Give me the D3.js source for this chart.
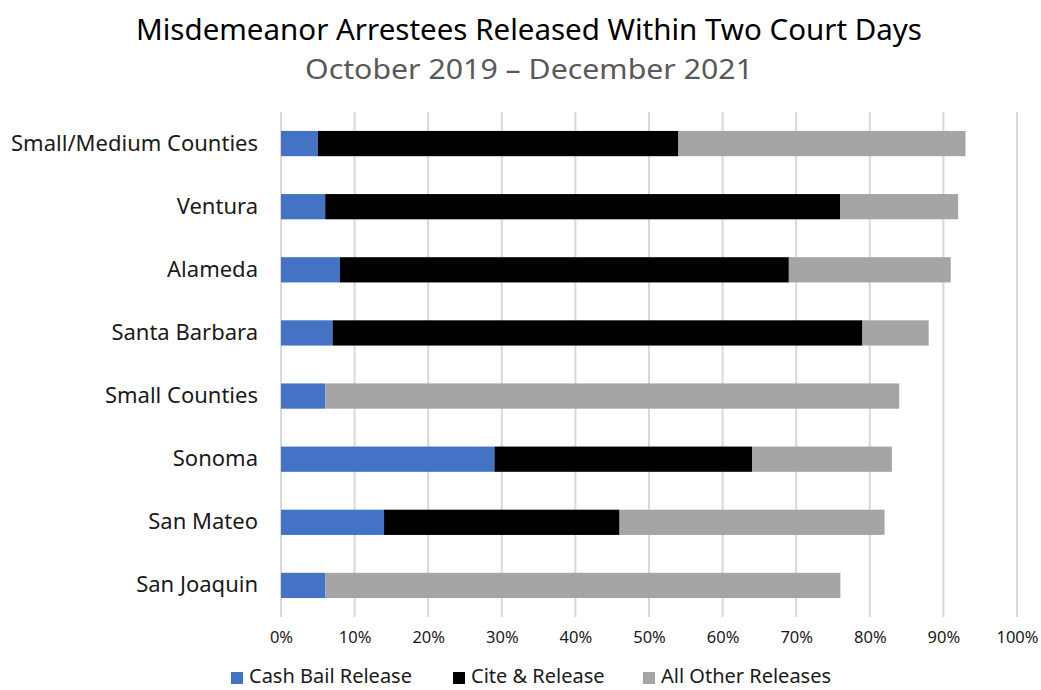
<!DOCTYPE html>
<html>
<head>
<meta charset="utf-8">
<script src="https://cdn.jsdelivr.net/npm/d3@7"></script>
<style>
body{margin:0;background:#fff;}
svg{font-family:'Noto Sans','Open Sans',sans-serif;}
</style>
</head>
<body>
<script>
// data (percent of arrestees)
var counties=['Small/Medium Counties','Ventura','Alameda','Santa Barbara','Small Counties','Sonoma','San Mateo','San Joaquin'];
var cashBail=[5,6,8,7,6,29,14,6];
var citeRelease=[49,70,61,72,0,35,32,0];
var otherRelease=[39,16,22,9,78,19,36,70];
var seriesNames=['Cash Bail Release','Cite & Release','All Other Releases'];
var seriesColors=['#4472C4','#000000','#A5A5A5'];
var tickValues=[0,10,20,30,40,50,60,70,80,90,100];

var width=1041,height=690;
var svg=d3.select('body').append('svg')
    .attr('width',width)
    .attr('height',height);

var rows=counties.map(function(c,i){
    return {county:c,cash:cashBail[i],cite:citeRelease[i],other:otherRelease[i]};
});
var keys=['cash','cite','other'];
var stacked=d3.stack().keys(keys)(rows);

var xScale=d3.scaleLinear().domain([0,100]).range([281,1017]);
var yScale=d3.scaleBand().domain(counties).range([112,617]).paddingInner(0.6).paddingOuter(0.3);

// title
svg.append('text')
    .attr('x',529).attr('y',40)
    .attr('text-anchor','middle')
    .attr('textLength',786)
    .attr('lengthAdjust','spacingAndGlyphs')
    .style('font-size','29px')
    .style('fill','#000')
    .text('Misdemeanor Arrestees Released Within Two Court Days');

svg.append('text')
    .attr('x',529).attr('y',79)
    .attr('text-anchor','middle')
    .attr('textLength',448)
    .attr('lengthAdjust','spacingAndGlyphs')
    .style('font-size','27px')
    .style('fill','#595959')
    .text('October 2019 \u2013 December 2021');

// gridlines
var grid=svg.append('g').attr('id','grid');
grid.selectAll('line')
    .data(tickValues)
    .enter()
    .append('line')
    .attr('x1',function(d){return xScale(d);})
    .attr('x2',function(d){return xScale(d);})
    .attr('y1',112)
    .attr('y2',617)
    .style('stroke','#d9d9d9')
    .style('stroke-width',2);

// x axis labels
var xAxis=d3.axisBottom(xScale)
    .tickValues(tickValues)
    .tickFormat(function(d){return d+'%';})
    .tickSize(0)
    .tickPadding(0);
var xg=svg.append('g')
    .attr('transform','translate(0,631)')
    .call(xAxis);
xg.select('.domain').remove();
xg.selectAll('text')
    .style('font-size','16.5px')
    .style('fill','#1a1a1a')
    .style('font-family',"'Noto Sans',sans-serif");

// y axis labels
var yAxis=d3.axisLeft(yScale).tickSize(0).tickPadding(0);
var yg=svg.append('g')
    .attr('transform','translate(258,0)')
    .call(yAxis);
yg.select('.domain').remove();
yg.selectAll('text')
    .style('font-size','22px')
    .style('fill','#1a1a1a')
    .style('font-family',"'Noto Sans',sans-serif");

// bars
var bars=svg.append('g').attr('id','bars');
bars.selectAll('g')
    .data(stacked)
    .enter()
    .append('g')
    .style('fill',function(d,i){return seriesColors[i];})
    .selectAll('rect')
    .data(function(d){return d;})
    .enter()
    .append('rect')
    .attr('x',function(d){return xScale(d[0]);})
    .attr('width',function(d){return xScale(d[1])-xScale(d[0]);})
    .attr('y',function(d){return yScale(d.data.county);})
    .attr('height',yScale.bandwidth());

// legend
var legendX=[231,453,643];
var legend=svg.append('g').attr('id','legend');
var items=legend.selectAll('g')
    .data(seriesNames)
    .enter()
    .append('g')
    .attr('transform',function(d,i){return 'translate('+legendX[i]+',672)';});
items.append('rect')
    .attr('width',12)
    .attr('height',12)
    .style('fill',function(d,i){return seriesColors[i];});
items.append('text')
    .attr('x',18)
    .attr('y',11)
    .style('font-size','20px')
    .style('fill','#1a1a1a')
    .text(function(d){return d;});
</script>
</body>
</html>
